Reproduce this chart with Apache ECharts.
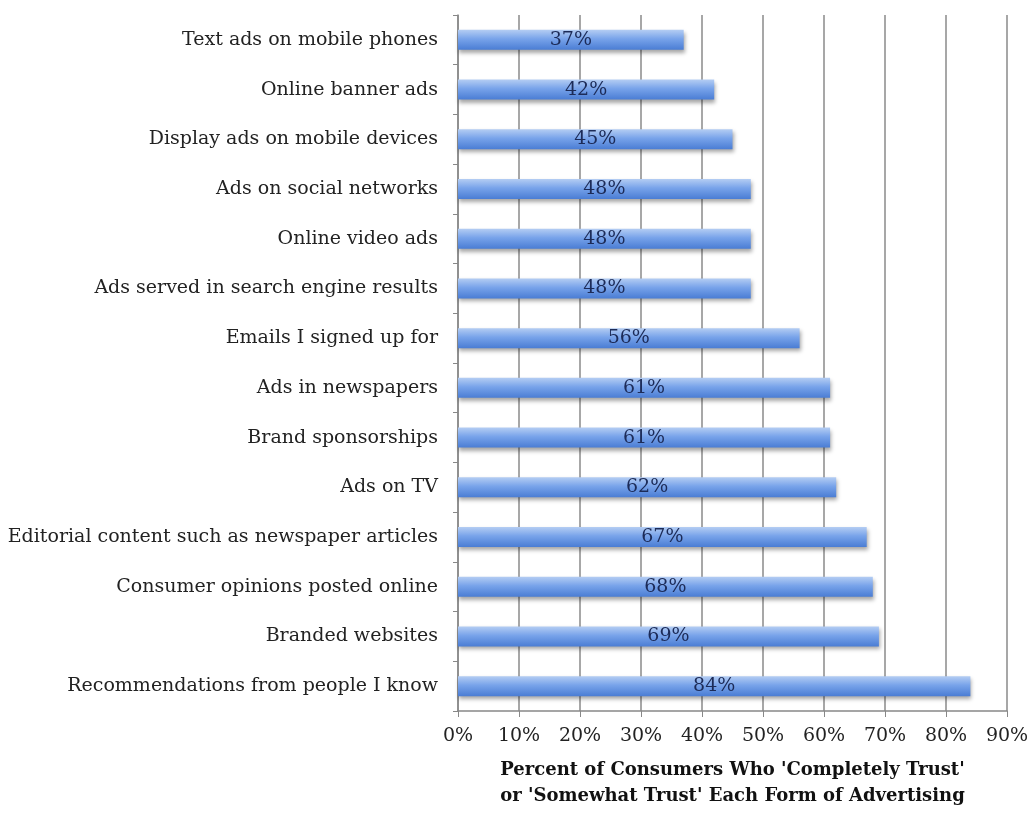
<!DOCTYPE html>
<html><head><meta charset="utf-8">
<script src="https://cdn.jsdelivr.net/npm/echarts@6/dist/echarts.min.js"></script>
<style>html,body{margin:0;padding:0;background:#fff}#c{width:1036px;height:814px}</style>
</head><body><div id="c"></div>
<script>
const categories = [
  "Text ads on mobile phones",
  "Online banner ads",
  "Display ads on mobile devices",
  "Ads on social networks",
  "Online video ads",
  "Ads served in search engine results",
  "Emails I signed up for",
  "Ads in newspapers",
  "Brand sponsorships",
  "Ads on TV",
  "Editorial content such as newspaper articles",
  "Consumer opinions posted online",
  "Branded websites",
  "Recommendations from people I know"
];
const values = [37, 42, 45, 48, 48, 48, 56, 61, 61, 62, 67, 68, 69, 84];
const axisTitle = "Percent of Consumers Who 'Completely Trust'\nor 'Somewhat Trust' Each Form of Advertising";

const chart = echarts.init(document.getElementById('c'), null, {renderer: 'canvas'});
const serif = "DejaVu Serif";
chart.setOption({
  animation: false,
  grid: {left: 458, right: 29, top: 15, bottom: 99},
  xAxis: {
    type: 'value', min: 0, max: 90, interval: 10,
    axisLabel: {formatter: '{value}%', color: '#222', fontFamily: serif, fontSize: 19, margin: 16},
    axisLine: {show: true, lineStyle: {color: '#888', width: 1.5}},
    axisTick: {show: true, inside: false, length: 6, lineStyle: {color: '#888'}},
    splitLine: {show: true, lineStyle: {color: '#8a8a8a', width: 1.5}},
    name: axisTitle, nameLocation: 'middle', nameGap: 46,
    nameTextStyle: {fontFamily: serif, fontWeight: 'bold', fontSize: 18, color: '#111', lineHeight: 26}
  },
  yAxis: {
    type: 'category', data: categories, inverse: true,
    axisLine: {show: true, lineStyle: {color: '#888', width: 1.5}},
    axisTick: {show: true, inside: false, length: 5, lineStyle: {color: '#888'}},
    axisLabel: {color: '#222', fontFamily: serif, fontSize: 19, margin: 20}
  },
  series: [{
    type: 'bar', data: values, barWidth: 20,
    itemStyle: {
      color: new echarts.graphic.LinearGradient(0, 0, 0, 1, [
        {offset: 0, color: '#b4cdf3'},
        {offset: 0.45, color: '#78a3ea'},
        {offset: 1, color: '#4a7dd4'}
      ]),
      shadowColor: 'rgba(0,0,0,0.35)', shadowBlur: 4, shadowOffsetY: 3, shadowOffsetX: 1
    },
    label: {
      show: true, position: 'inside', formatter: '{c}%',
      color: '#1c2b58', fontFamily: serif, fontSize: 19
    }
  }]
});
</script></body></html>
